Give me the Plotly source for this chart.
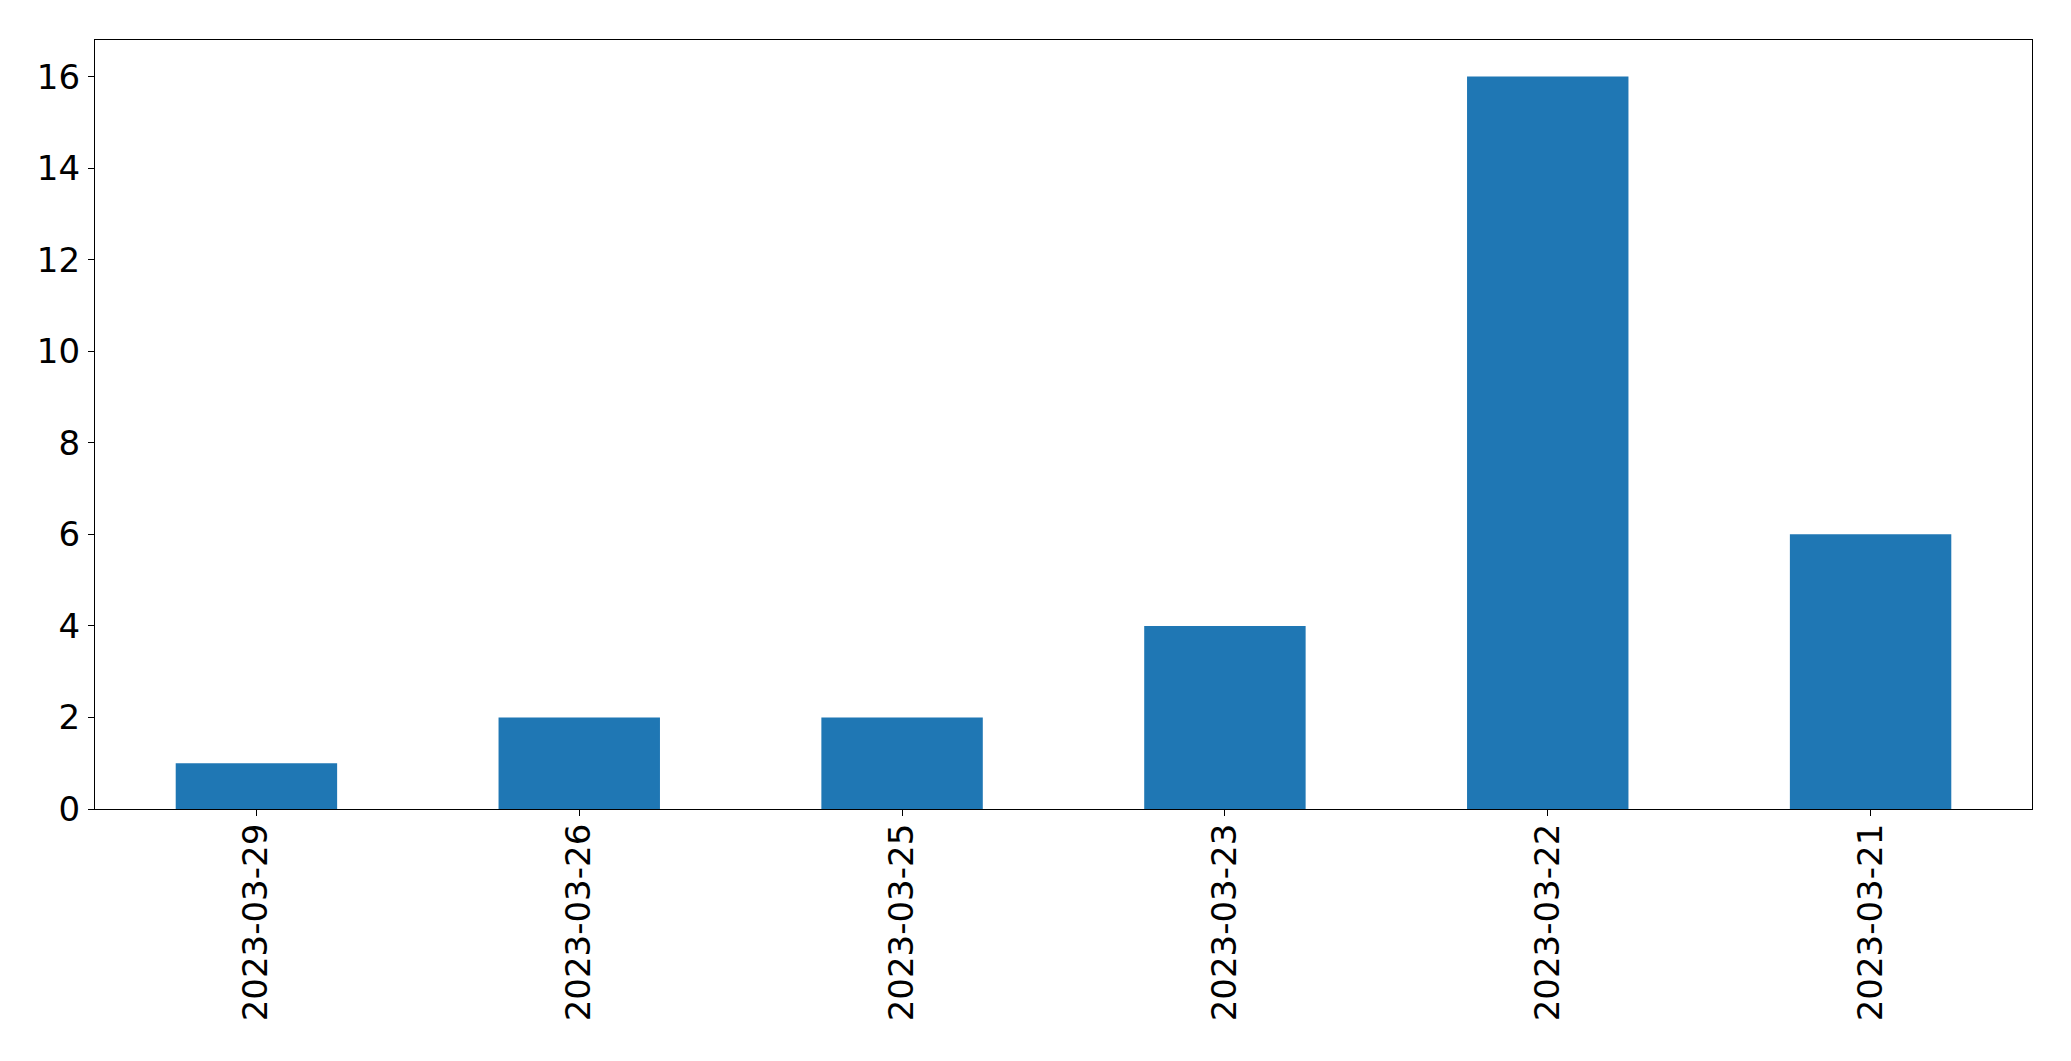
import plotly.graph_objects as go

dates = ["2023-03-29", "2023-03-26", "2023-03-25", "2023-03-23", "2023-03-22", "2023-03-21"]
counts = [1, 2, 2, 4, 16, 6]
y_ticks = [0, 2, 4, 6, 8, 10, 12, 14, 16]

fig = go.Figure()
fig.add_trace(go.Bar(x=dates, y=counts, marker=dict(color="#1f77b4", line=dict(width=0)), width=0.5))

font = dict(family="DejaVu Sans", size=34, color="black")
fig.update_layout(
    width=2071, height=1061,
    margin=dict(l=94.5, r=38.5, t=39.5, b=252),
    plot_bgcolor="white", paper_bgcolor="white",
    showlegend=False,
    font=font,
)
fig.update_xaxes(
    type="category", range=[-0.5, 5.5], tickangle=-90,
    showline=True, linecolor="black", linewidth=1.3, mirror=True,
    ticks="outside", ticklen=6, tickwidth=1.3, tickcolor="black",
    showgrid=False, zeroline=False, tickfont=font, ticklabelstandoff=-6,
)
fig.update_yaxes(
    range=[0, 16.8], tickvals=y_ticks,
    showline=True, linecolor="black", linewidth=1.3, mirror=True,
    ticks="outside", ticklen=6, tickwidth=1.3, tickcolor="black",
    showgrid=False, zeroline=False, tickfont=font, ticklabelstandoff=1,
)
fig.write_html(
    "out.html",
    config={"displayModeBar": False},
    post_script="document.body.style.margin='0';document.body.style.overflow='hidden';",
)
